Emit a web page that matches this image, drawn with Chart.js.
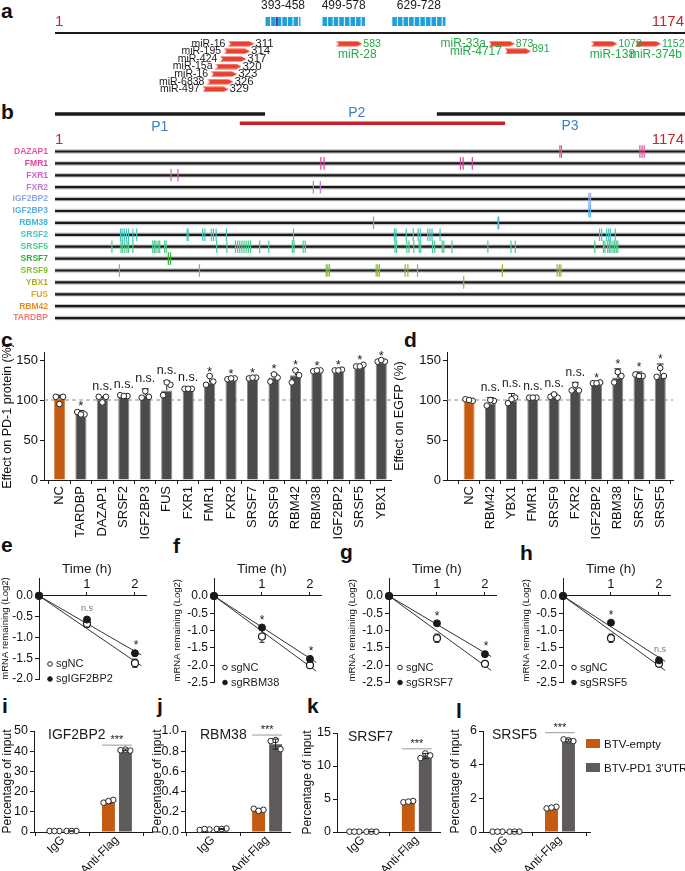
<!DOCTYPE html>
<html>
<head>
<meta charset="utf-8">
<title>PD-1 3'UTR binding proteins</title>
<script src="https://cdn.jsdelivr.net/npm/chart.js@4.4.1/dist/chart.umd.min.js"></script>
<style>
  html, body { margin: 0; padding: 0; background: #fff; }
  body { position: relative; width: 685px; height: 871px; overflow: hidden; font-family: Arial, "Liberation Sans", sans-serif; }
  canvas, .tag, .key { position: absolute; }
  .tag { font-weight: bold; font-size: 21px; line-height: 21px; color: #111; }
  .key { font-size: 11.5px; line-height: 14px; color: #111; white-space: nowrap; }
  .key i { display: inline-block; width: 14px; height: 9px; margin-right: 4px; vertical-align: 0px; }
</style>
</head>
<body>
<div class="tag" style="left:1px;top:0px">a</div>
<div class="tag" style="left:1px;top:101px">b</div>
<div class="tag" style="left:1px;top:329px">c</div>
<div class="tag" style="left:404px;top:329px">d</div>
<div class="tag" style="left:1px;top:534px">e</div>
<div class="tag" style="left:173px;top:535px">f</div>
<div class="tag" style="left:340px;top:541px">g</div>
<div class="tag" style="left:520px;top:542px">h</div>
<div class="tag" style="left:2px;top:695px">i</div>
<div class="tag" style="left:157px;top:695px">j</div>
<div class="tag" style="left:307px;top:695px">k</div>
<div class="tag" style="left:456px;top:700px">l</div>

<canvas id="chartA" width="685" height="95" style="left:0;top:0"></canvas>
<canvas id="chartB" width="685" height="245" style="left:0;top:95px"></canvas>
<canvas id="chartC" width="392" height="205" style="left:0;top:340px"></canvas>
<canvas id="chartD" width="293" height="205" style="left:392px;top:340px"></canvas>
<canvas id="chartE" width="172" height="133" style="left:0;top:560px"></canvas>
<canvas id="chartF" width="172" height="133" style="left:172px;top:560px"></canvas>
<canvas id="chartG" width="172" height="133" style="left:347px;top:560px"></canvas>
<canvas id="chartH" width="164" height="133" style="left:521px;top:560px"></canvas>
<canvas id="chartI" width="157" height="176" style="left:0;top:695px"></canvas>
<canvas id="chartJ" width="145" height="176" style="left:150px;top:695px"></canvas>
<canvas id="chartK" width="145" height="176" style="left:300px;top:695px"></canvas>
<canvas id="chartL" width="237" height="176" style="left:448px;top:695px"></canvas>

<div class="key" style="left:586px;top:737px"><i style="background:#c55a11"></i>BTV-empty</div>
<div class="key" style="left:586px;top:761px"><i style="background:#5f5b5b"></i>BTV-PD1 3'UTR</div>

<script>
// ---------- a: predicted miRNA sites on the PD-1 3'UTR ----------
const utrEnd = 1174;
const siteLabels = ['393-458', '499-578', '629-728'];
const siteStart = [393, 499, 629];
const siteEnd = [458, 578, 728];
const siteMarked = [414];
const mirNames = ['miR-16', 'miR-195', 'miR-424', 'miR-15a', 'miR-16', 'miR-6838', 'miR-497', 'miR-28', 'miR-33a', 'miR-4717', 'miR-138', 'miR-374b'];
const mirSites = ['311', '314', '317', '320', '323', '326', '329', '583', '873', '891', '1073', '1152'];
const mirDrawnAt = [348, 340, 333, 324, 316, 309, 300, 549, 833, 863, 1024, 1105]; // arrow centre in the schematic
const mirRow = [1, 2, 3, 4, 5, 6, 7, 1, 1, 2, 1, 1];
const mirGreen = [0, 0, 0, 0, 0, 0, 0, 1, 1, 1, 1, 1];
const mirNameBelow = [0, 0, 0, 0, 0, 0, 0, 1, 0, 0, 1, 1];

// ---------- b: CLIP peaks of RNA binding proteins ----------
const fragNames = ['P1', 'P2', 'P3'];
const fragStart = [1, 345, 712];
const fragEnd = [392, 839, 1174];
const fragLabelAt = [196, 563, 960];
const trackNames = ['DAZAP1', 'FMR1', 'FXR1', 'FXR2', 'IGF2BP2', 'IGF2BP3', 'RBM38', 'SRSF2', 'SRSF5', 'SRSF7', 'SRSF9', 'YBX1', 'FUS', 'RBM42', 'TARDBP'];
const trackColors = ['#ec4f9c', '#e0449a', '#d05fcc', '#c078d8', '#8fa9e3', '#5caee3', '#43b7d9', '#43c5bf', '#4ccb8e', '#34ad3a', '#86bf2d', '#b5ab22', '#e2a43c', '#f0891e', '#f27b72'];
const trackSites = [
  [941, 944, 1090, 1094, 1098],
  [496, 502, 756, 761, 778],
  [217, 230],
  [482, 495],
  [995, 998],
  [995, 998],
  [594, 826, 827],
  [123, 126, 130, 134, 138, 146, 153, 247, 249, 276, 280, 292, 296, 301, 320, 445, 633, 636, 655, 668, 677, 681, 695, 699, 703, 718, 1015, 1019, 1028, 1032, 1035, 1044],
  [107, 124, 127, 131, 135, 138, 146, 183, 186, 189, 193, 196, 205, 208, 302, 321, 337, 341, 345, 349, 353, 357, 361, 365, 382, 399, 443, 446, 463, 467, 634, 637, 656, 660, 669, 679, 682, 704, 708, 722, 725, 740, 807, 850, 858, 1006, 1022, 1025, 1030, 1033, 1036, 1040, 1043, 1046, 1049],
  [212, 216],
  [121, 270, 506, 509, 512, 599, 602, 605, 653, 658, 676, 834, 936, 940, 943],
  [762],
  [], [], []
];

// ---------- c: knockdown effect on PD-1 protein ----------
const pd1Genes = ['NC', 'TARDBP', 'DAZAP1', 'SRSF2', 'IGF2BP3', 'FUS', 'FXR1', 'FMR1', 'FXR2', 'SRSF7', 'SRSF9', 'RBM42', 'RBM38', 'IGF2BP2', 'SRSF5', 'YBX1'];
const pd1Mean = [102, 83, 101, 106, 106, 112, 114, 122, 126, 127, 128, 131, 136, 137, 142, 147];
const pd1Upper = [106, 87, 104, 107, 114, 124, 115, 130, 127.5, 128.5, 133, 138, 137.5, 138.5, 144, 150];
const pd1Reps = [[104, 104, 95], [85, 82, 82], [104, 104, 97], [106, 105, 105], [103, 104, 111], [106, 119, 122], [114, 114, 114], [119, 123, 130], [126, 127, 127], [127, 128, 128], [123, 128, 132], [122, 131, 137], [136, 137, 137], [137, 138, 137], [142, 144, 142], [148, 148, 150]];
const pd1Sig = ['', '*', 'n.s.', 'n.s.', 'n.s.', 'n.s.', 'n.s.', '*', '*', '*', '*', '*', '*', '*', '*', '*'];
const pctTicks = [0, 50, 100, 150];

// ---------- d: effect on EGFP reporter ----------
const egfpGenes = ['NC', 'RBM42', 'YBX1', 'FMR1', 'SRSF9', 'FXR2', 'IGF2BP2', 'RBM38', 'SRSF7', 'SRSF5'];
const egfpMean = [101, 96, 99, 102, 104, 114, 121, 128, 131, 129];
const egfpUpper = [102, 103, 108, 104, 108, 122, 122, 139, 135, 145];
const egfpReps = [[101, 99, 100], [93, 99, 100], [96, 103, 101], [103, 103, 103], [104, 103, 107], [112, 112, 119], [121, 122, 121], [122, 130, 135], [132, 130, 130], [129, 130, 140]];
const egfpSig = ['', 'n.s.', 'n.s.', 'n.s.', 'n.s.', 'n.s.', '*', '*', '*', '*'];

// ---------- e-h: mRNA decay after actinomycin D ----------
const decayTime = [0, 1, 2];
const timeTicks = [1, 2];
const decayKnockdown = ['sgIGF2BP2', 'sgRBM38', 'sgSRSF7', 'sgSRSF5'];
const decayNC = [[0, -0.67, -1.62], [0, -1.17, -2.0], [0, -1.22, -1.96], [0, -1.22, -1.96]];
const decayNCErr = [[0, 0.09, 0.1], [0, 0.17, 0.05], [0, 0.12, 0.06], [0, 0.12, 0.08]];
const decayKD = [[0, -0.57, -1.38], [0, -0.91, -1.82], [0, -0.79, -1.68], [0, -0.77, -1.86]];
const decayKDErr = [[0, 0.04, 0.06], [0, 0.05, 0.08], [0, 0.05, 0.06], [0, 0.05, 0.04]];
const fitEnd = 2.13;
const fitNC = [-1.68, -2.17, -2.15, -2.15];
const fitKD = [-1.42, -1.92, -1.75, -1.89];
const decaySig = [['n.s', '*'], ['*', '*'], ['*', '*'], ['*', 'n.s']];
const decayTicks = [[0, -0.5, -1, -1.5, -2], [0, -0.5, -1, -1.5, -2, -2.5], [0, -0.5, -1, -1.5, -2, -2.5], [0, -0.5, -1, -1.5, -2, -2.5]];

// ---------- i-l: RNA pull-down ----------
const ripTargets = ['IGF2BP2', 'RBM38', 'SRSF7', 'SRSF5'];
const ripGroups = ['IgG', 'Anti-Flag'];
const ripSeries = ['BTV-empty', "BTV-PD1 3'UTR"];
const ripEmptyMean = [[0.5, 15.0], [0.025, 0.22], [0.05, 4.6], [0.02, 1.45]];
const ripUtrMean = [[0.5, 40.7], [0.03, 0.87], [0.05, 11.5], [0.02, 5.45]];
const ripEmptySd = [[0.1, 0.8], [0.005, 0.01], [0.02, 0.12], [0.01, 0.06]];
const ripUtrSd = [[0.1, 0.4], [0.005, 0.05], [0.02, 0.4], [0.01, 0.06]];
const ripEmptyReps = [
  [[0.5, 0.5, 0.5], [14.5, 15.9, 15.3]],
  [[0.02, 0.025, 0.03], [0.23, 0.22, 0.21]],
  [[0.05, 0.05, 0.05], [4.5, 4.7, 4.6]],
  [[0.02, 0.02, 0.02], [1.4, 1.5, 1.45]]
];
const ripUtrReps = [
  [[0.5, 0.5, 0.5], [40.5, 40.3, 40.8]],
  [[0.03, 0.035, 0.03], [0.9, 0.82, 0.91]],
  [[0.05, 0.05, 0.05], [11.2, 11.6, 11.9]],
  [[0.02, 0.02, 0.02], [5.5, 5.4, 5.45]]
];
const ripTicks = [[0, 10, 20, 30, 40, 50], [0, 0.2, 0.4, 0.6, 0.8, 1.0], [0, 5, 10, 15], [0, 2, 4, 6]];
const ripSigAt = [43, 0.96, 12.6, 5.9];

// ---------- common look ----------
Chart.defaults.font.family = 'Arial, "Liberation Sans", Helvetica, sans-serif';
Chart.defaults.color = '#111';
Chart.defaults.animation = false;
Chart.defaults.responsive = false;
Chart.defaults.events = [];
Chart.defaults.layout.autoPadding = false;
Chart.defaults.plugins.legend.display = false;
Chart.defaults.plugins.tooltip.enabled = false;

const ink = '#1a1a1a';
const orange = '#c55a11';
const barGrey = '#4b4b4b';
const ripGrey = '#5f5b5b';
const mirGreenColor = '#26a84a';
const endRed = '#c4262e';
const fragBlue = '#3b80c6';
const narrow = '"Liberation Sans Narrow", "Arial Narrow", Arial, sans-serif';

const fixedTicks = values => s => { s.ticks = values.map(v => ({ value: v })); };
// pin an axis box size and drop the half-label margins Chart.js asks for
const fitBox = (w, h) => s => {
  if (w != null) s.width = w;
  if (h != null) s.height = h;
  s.paddingTop = 0; s.paddingBottom = 0; s.paddingLeft = 0; s.paddingRight = 0;
};
const tickGrid = len => ({ display: true, drawOnChartArea: false, drawTicks: true, tickLength: len, color: ink, lineWidth: 1 });
const axisBorder = { display: true, color: ink, width: 1 };

// text, rules and legend dots placed through the chart scales
function decor(spec) {
  return {
    id: 'decor',
    afterDatasetsDraw(chart) {
      const { ctx } = chart;
      const sx = chart.scales.x, sy = chart.scales.y;
      const px = (v, d) => sx.getPixelForValue(v) + (d || 0);
      const py = (v, d) => sy.getPixelForValue(v) + (d || 0);
      ctx.save();
      (spec.rules || []).forEach(r => {
        ctx.strokeStyle = r.color || ink;
        ctx.lineWidth = r.width || 1;
        ctx.beginPath();
        ctx.moveTo(px(r.x1), py(r.y));
        ctx.lineTo(px(r.x2), py(r.y));
        ctx.stroke();
      });
      (spec.dots || []).forEach(d => {
        ctx.beginPath();
        ctx.arc(px(d.x, d.dx), py(d.y, d.dy), d.r, 0, Math.PI * 2);
        ctx.fillStyle = d.fill;
        ctx.fill();
        ctx.lineWidth = 1;
        ctx.strokeStyle = ink;
        ctx.stroke();
      });
      (spec.texts || []).forEach(t => {
        ctx.font = t.font;
        ctx.fillStyle = t.color || ink;
        ctx.textAlign = t.align || 'center';
        ctx.textBaseline = 'middle';
        ctx.fillText(t.text, px(t.x, t.dx), py(t.y, t.dy));
      });
      ctx.restore();
    }
  };
}

// error bars, drawn just before the given dataset
function whiskers(list, beforeIndex) {
  return {
    id: 'whiskers',
    beforeDatasetDraw(chart, args) {
      if (args.index !== beforeIndex) return;
      const { ctx } = chart;
      const sx = chart.scales.x, sy = chart.scales.y;
      ctx.save();
      ctx.strokeStyle = '#222';
      ctx.lineWidth = 1;
      list.forEach(w => {
        const x = sx.getPixelForValue(w.x);
        const y1 = sy.getPixelForValue(w.lo), y2 = sy.getPixelForValue(w.hi);
        ctx.beginPath();
        ctx.moveTo(x, y1); ctx.lineTo(x, y2);
        ctx.moveTo(x - w.cap, y2); ctx.lineTo(x + w.cap, y2);
        if (w.both) { ctx.moveTo(x - w.cap, y1); ctx.lineTo(x + w.cap, y1); }
        ctx.stroke();
      });
      ctx.restore();
    }
  };
}

// ---------- chart a ----------
const arrowImg = (() => {
  const c = document.createElement('canvas');
  c.width = 26; c.height = 6;
  const g = c.getContext('2d');
  g.fillStyle = '#e8412f';
  g.beginPath();
  g.moveTo(0, 0.5); g.lineTo(21, 0.5); g.lineTo(26, 3); g.lineTo(21, 5.5); g.lineTo(0, 5.5); g.lineTo(2.5, 3);
  g.closePath(); g.fill();
  return c;
})();

(function () {
  const lineRow = -0.41, siteRow = -1.92, siteLabelRow = -4.0, endRow = -1.86;
  const texts = [
    { x: 1, y: endRow, text: '1', align: 'left', color: endRed, font: '15px Arial' },
    { x: utrEnd, y: endRow, text: '1174', align: 'right', dx: -1, color: endRed, font: '15px Arial' }
  ];
  siteLabels.forEach((s, i) => texts.push({ x: (siteStart[i] + siteEnd[i]) / 2, y: siteLabelRow, text: s, font: '12px ' + narrow }));
  mirNames.forEach((n, i) => {
    const col = mirGreen[i] ? mirGreenColor : ink;
    texts.push({ x: mirDrawnAt[i], y: mirRow[i], dx: 14, dy: i === 9 ? -2 : 0, text: mirSites[i], align: 'left', color: col, font: (mirGreen[i] ? '10.5px ' : '11.5px ') + narrow });
    if (mirNameBelow[i]) texts.push({ x: mirDrawnAt[i], y: mirRow[i] + 1.5, dx: 8, text: n, color: col, font: '12px ' + narrow });
    else texts.push({ x: mirDrawnAt[i], y: mirRow[i], dx: -16, text: n, align: 'right', color: col, font: mirGreen[i] ? '12px ' + narrow : '10.5px ' + narrow });
  });
  new Chart(document.getElementById('chartA'), {
    type: 'scatter',
    data: {
      datasets: [
        { data: siteMarked.map(x => ({ x, y: siteRow })), pointStyle: 'line', pointRotation: 90, pointRadius: 4.5, pointBorderWidth: 1.6, pointBorderColor: '#5a2d91', order: 0 },
        { type: 'line', data: [{ x: 1, y: lineRow }, { x: utrEnd, y: lineRow }], borderColor: ink, borderWidth: 2, pointRadius: 0, order: 2 },
        ...siteStart.map((s, i) => ({ type: 'line', data: [{ x: s, y: siteRow }, { x: siteEnd[i], y: siteRow }], borderColor: '#1ea0da', borderWidth: 9, borderDash: [4.6, 1], borderCapStyle: 'butt', pointRadius: 0, order: 1 })),
        { data: mirDrawnAt.map((x, i) => ({ x, y: mirRow[i] })), pointStyle: arrowImg, pointRadius: 13, order: 0, clip: false }
      ]
    },
    options: {
      layout: { padding: { left: 55, right: 0, top: 0, bottom: 0 } },
      scales: {
        x: { type: 'linear', display: false, min: 1, max: utrEnd },
        y: { type: 'linear', display: false, reverse: true, min: -4.75, max: 7.75 }
      }
    },
    plugins: [decor({ texts })]
  });
})();

// ---------- chart b ----------
(function () {
  const fragRow = [-3.15, -2.37, -3.15];
  const fragLabelRow = [-2.03, -3.21, -2.17];
  const fragColor = [ink, '#c8202b', ink];
  const endRow = -0.97;
  const datasets = [];
  trackSites.forEach((sites, k) => {
    datasets.push({ data: sites.map(x => ({ x, y: k })), pointStyle: 'line', pointRotation: 90, pointRadius: 6.3, pointBorderWidth: 1.2, pointBorderColor: trackColors[k], order: 0, clip: false });
  });
  trackNames.forEach((n, k) => {
    datasets.push({ type: 'line', data: [{ x: 1, y: k }, { x: utrEnd, y: k }], borderColor: ink, borderWidth: 2.2, pointRadius: 0, order: 3 });
    datasets.push({ type: 'line', data: [{ x: 1, y: k }, { x: utrEnd, y: k }], borderColor: '#c4c4c4', borderWidth: 4.5, pointRadius: 0, order: 4 });
  });
  fragNames.forEach((f, i) => {
    datasets.push({ type: 'line', data: [{ x: fragStart[i], y: fragRow[i] }, { x: fragEnd[i], y: fragRow[i] }], borderColor: fragColor[i], borderWidth: 3.5, borderCapStyle: 'butt', pointRadius: 0, order: 2 });
  });
  const texts = [
    { x: 1, y: endRow, text: '1', align: 'left', color: endRed, font: '15px Arial' },
    { x: utrEnd, y: endRow, text: '1174', align: 'right', dx: -1, color: endRed, font: '15px Arial' }
  ];
  fragNames.forEach((f, i) => texts.push({ x: fragLabelAt[i], y: fragLabelRow[i], text: f, color: fragBlue, font: '14px Arial' }));
  new Chart(document.getElementById('chartB'), {
    type: 'scatter',
    data: { datasets },
    options: {
      layout: { padding: 0 },
      scales: {
        x: { type: 'linear', display: false, min: 1, max: utrEnd },
        y: {
          type: 'linear', reverse: true, min: -4.748, max: 15.84,
          afterBuildTicks: fixedTicks(trackNames.map((n, k) => k)),
          afterFit: fitBox(55, null),
          grid: { display: false, drawTicks: false },
          border: { display: false },
          ticks: { padding: 7, font: { size: 8.5, weight: 'bold' }, color: c => trackColors[c.tick.value], callback: v => trackNames[v] }
        }
      }
    },
    plugins: [decor({ texts })]
  });
})();

// ---------- charts c and d ----------
function effectChart(id, genes, mean, upper, reps, sig, o) {
  const jitter = [-0.17, 0.17, 0];
  const pts = [];
  reps.forEach((r, i) => r.forEach((v, j) => pts.push({ x: i + jitter[j], y: v })));
  const texts = [];
  sig.forEach((s, i) => {
    if (!s) return;
    const top = Math.max(upper[i], ...reps[i]);
    texts.push({ x: i, y: top, dy: s === '*' ? -4 : -10, text: s, font: s === '*' ? o.starFont : o.nsFont });
  });
  const errs = mean.map((m, i) => ({ x: i, lo: m, hi: upper[i], cap: 3.5 }));
  new Chart(document.getElementById(id), {
    type: 'bar',
    data: {
      datasets: [
        { type: 'line', data: [{ x: o.xMin, y: 100 }, { x: o.xMax, y: 100 }], borderColor: '#8a8a8a', borderWidth: 1, borderDash: [4, 3], pointRadius: 0, order: 3 },
        { data: mean.map((v, i) => ({ x: i, y: v })), backgroundColor: genes.map((g, i) => i === 0 ? orange : barGrey), borderColor: genes.map((g, i) => i === 0 ? '#d9894f' : '#8a8a8a'), borderWidth: 1, barPercentage: 0.52, categoryPercentage: 1, order: 2 },
        { type: 'scatter', data: pts, pointRadius: 2.8, pointBackgroundColor: '#fff', pointBorderColor: '#222', pointBorderWidth: 1, order: 0, clip: false }
      ]
    },
    options: {
      layout: { padding: { top: 12, right: o.padRight, bottom: 0, left: 0 } },
      scales: {
        x: {
          type: 'linear', min: o.xMin, max: o.xMax, offset: false,
          afterBuildTicks: fixedTicks(genes.map((g, i) => i)),
          afterFit: fitBox(null, 65),
          grid: tickGrid(4), border: axisBorder,
          ticks: { autoSkip: false, minRotation: 90, maxRotation: 90, padding: 2, font: { size: 13 }, callback: v => genes[v] }
        },
        y: {
          type: 'linear', min: 0, max: 160,
          afterBuildTicks: fixedTicks(pctTicks),
          afterFit: fitBox(o.yWidth, null),
          grid: tickGrid(4), border: axisBorder,
          ticks: { padding: 2, font: { size: 13 } },
          title: { display: true, text: o.title, font: { size: 12.5 }, padding: { top: 0, bottom: 0 } }
        }
      }
    },
    plugins: [whiskers(errs, 2), decor({ texts })]
  });
}

effectChart('chartC', pd1Genes, pd1Mean, pd1Upper, pd1Reps, pd1Sig,
  { xMin: -0.72, xMax: 15.5, padRight: 0, yWidth: 44, title: 'Effect on PD-1 protein (%)', starFont: '13px Arial', nsFont: '12.5px Arial' });
effectChart('chartD', egfpGenes, egfpMean, egfpUpper, egfpReps, egfpSig,
  { xMin: -1.04, xMax: 9.6, padRight: 12, yWidth: 55, title: 'Effect on EGFP (%)', starFont: '12px Arial', nsFont: '12px Arial' });

// ---------- charts e-h ----------
function decayChart(id, k, o) {
  const errs = [];
  decayTime.forEach((t, i) => {
    if (decayNCErr[k][i]) errs.push({ x: t, lo: decayNC[k][i] - decayNCErr[k][i], hi: decayNC[k][i] + decayNCErr[k][i], cap: 2.5, both: true });
    if (decayKDErr[k][i]) errs.push({ x: t, lo: decayKD[k][i] - decayKDErr[k][i], hi: decayKD[k][i] + decayKDErr[k][i], cap: 2.5, both: true });
  });
  const texts = [{ x: 1, y: 0, dy: -27, text: 'Time (h)', font: '13.5px Arial' }];
  decaySig[k].forEach((s, j) => {
    const i = j + 1;
    const top = Math.max(decayKD[k][i] + decayKDErr[k][i], decayNC[k][i] + decayNCErr[k][i]);
    texts.push({ x: decayTime[i], y: top, dx: i === 2 ? 1 : 0, dy: s === '*' ? -5 : -9, text: s, color: s === '*' ? ink : '#777', font: s === '*' ? '12px Arial' : '9px Arial' });
  });
  const ymin = decayTicks[k][decayTicks[k].length - 1];
  texts.push({ x: 0, y: ymin, dx: 17, dy: -15, text: 'sgNC', align: 'left', font: '11px Arial' });
  texts.push({ x: 0, y: ymin, dx: 17, dy: 0, text: decayKnockdown[k], align: 'left', font: '11px Arial' });
  const dots = [
    { x: 0, y: ymin, dx: 11, dy: -15, r: 2.3, fill: '#fff' },
    { x: 0, y: ymin, dx: 11, dy: 0, r: 2.3, fill: ink }
  ];
  new Chart(document.getElementById(id), {
    type: 'scatter',
    data: {
      datasets: [
        { type: 'line', data: [{ x: 0, y: 0 }, { x: fitEnd, y: fitNC[k] }], borderColor: '#333', borderWidth: 1, pointRadius: 0, order: 3 },
        { type: 'line', data: [{ x: 0, y: 0 }, { x: fitEnd, y: fitKD[k] }], borderColor: '#333', borderWidth: 1, pointRadius: 0, order: 3 },
        { data: decayTime.map((t, i) => ({ x: t, y: decayNC[k][i] })), pointRadius: 3.5, pointBackgroundColor: '#fff', pointBorderColor: ink, pointBorderWidth: 1.2, order: 1, clip: false },
        { data: decayTime.map((t, i) => ({ x: t, y: decayKD[k][i] })), pointRadius: 3.5, pointBackgroundColor: ink, pointBorderColor: ink, pointBorderWidth: 1, order: 0, clip: false }
      ]
    },
    options: {
      layout: { padding: { top: 18, right: o.padRight, bottom: o.padBottom, left: 0 } },
      scales: {
        x: {
          type: 'linear', min: 0, max: 2.23, position: { y: 0 },
          afterBuildTicks: fixedTicks(timeTicks),
          afterFit: fitBox(null, null),
          grid: tickGrid(-4), border: axisBorder,
          ticks: { mirror: true, padding: 0, font: { size: 13 }, callback: v => String(v) }
        },
        y: {
          type: 'linear', min: ymin, max: o.yMax,
          afterBuildTicks: fixedTicks(decayTicks[k]),
          afterFit: fitBox(o.yWidth, null),
          grid: tickGrid(4), border: axisBorder,
          ticks: { padding: 2, font: { size: 12 }, callback: v => v.toFixed(1) },
          title: { display: true, text: 'mRNA remaining (Log2)', font: { size: 9.5 }, padding: { top: 0, bottom: 0 } }
        }
      }
    },
    plugins: [whiskers(errs, 2), decor({ texts, dots })]
  });
}

decayChart('chartE', 0, { yWidth: 39, padRight: 26, padBottom: 14, yMax: 0.43 });
decayChart('chartF', 1, { yWidth: 42, padRight: 23, padBottom: 10.5, yMax: 0.52 });
decayChart('chartG', 2, { yWidth: 42, padRight: 23, padBottom: 10.5, yMax: 0.52 });
decayChart('chartH', 3, { yWidth: 42, padRight: 15, padBottom: 10.5, yMax: 0.52 });

// ---------- charts i-l ----------
function ripChart(id, k, o) {
  const shift = 0.1574, jitter = [-0.09, 0.09, 0];
  const emptyPts = [], utrPts = [], errs = [];
  ripGroups.forEach((g, gi) => {
    ripEmptyReps[k][gi].forEach((v, j) => emptyPts.push({ x: gi - shift + jitter[j], y: v }));
    ripUtrReps[k][gi].forEach((v, j) => utrPts.push({ x: gi + shift + jitter[j], y: v }));
    errs.push({ x: gi - shift, lo: ripEmptyMean[k][gi] - ripEmptySd[k][gi], hi: ripEmptyMean[k][gi] + ripEmptySd[k][gi], cap: 3, both: true });
    errs.push({ x: gi + shift, lo: ripUtrMean[k][gi] - ripUtrSd[k][gi], hi: ripUtrMean[k][gi] + ripUtrSd[k][gi], cap: 3, both: true });
  });
  const ticks = ripTicks[k];
  const top = ticks[ticks.length - 1];
  const texts = [
    { x: o.xMin, y: top, dx: o.titleDx, dy: 4, text: ripTargets[k], align: 'left', font: '14px Arial' },
    { x: 1, y: ripSigAt[k], dy: -5, text: '***', font: '11px Arial' }
  ];
  const rules = [{ x1: 1 - 0.277, x2: 1 + 0.277, y: ripSigAt[k], color: '#9a9a9a', width: 1 }];
  new Chart(document.getElementById(id), {
    type: 'bar',
    data: {
      datasets: [
        { label: ripSeries[0], data: ripGroups.map((g, gi) => ({ x: gi, y: ripEmptyMean[k][gi] })), backgroundColor: orange, categoryPercentage: 0.63, barPercentage: 0.76, order: 2 },
        { label: ripSeries[1], data: ripGroups.map((g, gi) => ({ x: gi, y: ripUtrMean[k][gi] })), backgroundColor: ripGrey, categoryPercentage: 0.63, barPercentage: 0.76, order: 2 },
        { type: 'scatter', data: emptyPts, pointRadius: 2.8, pointBackgroundColor: '#fff', pointBorderColor: '#222', pointBorderWidth: 1, order: 0, clip: false },
        { type: 'scatter', data: utrPts, pointRadius: 2.8, pointBackgroundColor: '#fff', pointBorderColor: '#222', pointBorderWidth: 1, order: 0, clip: false }
      ]
    },
    options: {
      layout: { padding: { top: o.padTop, right: o.padRight, bottom: 0, left: 0 } },
      scales: {
        x: {
          type: 'linear', min: o.xMin, max: o.xMax, offset: false,
          afterBuildTicks: fixedTicks([0, 1]),
          afterFit: fitBox(null, 39),
          grid: tickGrid(4), border: axisBorder,
          ticks: { autoSkip: false, minRotation: 45, maxRotation: 45, padding: -3, font: { size: 12 }, callback: v => ripGroups[v] }
        },
        y: {
          type: 'linear', min: 0, max: top,
          afterBuildTicks: fixedTicks(ticks),
          afterFit: fitBox(o.yWidth, null),
          grid: tickGrid(4), border: axisBorder,
          ticks: { padding: 2, font: { size: 12.5 }, callback: v => k === 1 ? v.toFixed(1) : String(v) },
          title: { display: true, text: 'Percentage of input', font: { size: 12 }, padding: { top: 0, bottom: 0 } }
        }
      }
    },
    plugins: [whiskers(errs, 2), decor({ texts, rules })]
  });
}

ripChart('chartI', 0, { yWidth: 34, padTop: 36, padRight: 5, xMin: -0.537, xMax: 1.65, titleDx: 14 });
ripChart('chartJ', 1, { yWidth: 35, padTop: 36, padRight: 5, xMin: -0.52, xMax: 1.424, titleDx: 15 });
ripChart('chartK', 2, { yWidth: 37, padTop: 38, padRight: 5, xMin: -0.48, xMax: 1.43, titleDx: 11 });
ripChart('chartL', 3, { yWidth: 35, padTop: 36, padRight: 95, xMin: -0.426, xMax: 1.556, titleDx: 9 });
</script>
</body>
</html>
